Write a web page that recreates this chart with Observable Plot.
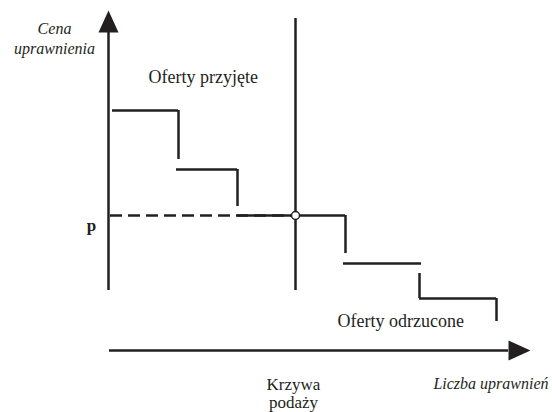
<!DOCTYPE html>
<html>
<head>
<meta charset="utf-8">
<script src="https://cdn.jsdelivr.net/npm/d3@7"></script>
<script src="https://cdn.jsdelivr.net/npm/@observablehq/plot@0.6"></script>
<style>
  html, body { margin: 0; padding: 0; background: #fff; }
</style>
</head>
<body>
<div id="chart"></div>
<script>
// Schematic units: quantity (x) and price (y)
// Accepted / rejected offers: horizontal price levels
const levelPrice = [60, 45.25, 33.75, 21.75, 13];
const levelStart = [1, 17, 32.25, 58.75, 77.75];
const levelEnd   = [17.5, 32.25, 59.25, 78.25, 97];
// Vertical drops between offers
const dropQty    = [17.5, 32.25, 59.25, 77.75, 97];
const dropTop    = [60, 45.25, 33.75, 19.25, 13];
const dropBottom = [47.75, 36, 24.25, 13, 7.25];
// Equilibrium
const supplyQty = 46.75;
const priceP = 33.75;
const supplyTop = 83, supplyBottom = 15;
// Axes
const yAxisBottom = 15, yAxisTop = 79.5;
const xAxisStart = 0.25, xAxisEnd = 100;
const arrowUp = {x: 0, y: 82.25};
const arrowRight = {x: 102.75, y: 0};

const labels = [
  {text: "Cena", x: -13.5, y: 80.3, size: 16, style: "italic", weight: "normal", anchor: "middle"},
  {text: "uprawnienia", x: -13.5, y: 75.3, size: 16, style: "italic", weight: "normal", anchor: "middle"},
  {text: "Oferty przyjęte", x: 10, y: 68.2, size: 18, style: "normal", weight: "normal", anchor: "start"},
  {text: "p", x: -4.25, y: 31.25, size: 17, style: "normal", weight: "bold", anchor: "middle"},
  {text: "Oferty odrzucone", x: 57.25, y: 7.2, size: 18, style: "normal", weight: "normal", anchor: "start"},
  {text: "Krzywa", x: 46.25, y: -8.6, size: 17, style: "normal", weight: "normal", anchor: "middle"},
  {text: "podaży", x: 46.25, y: -13.0, size: 17, style: "normal", weight: "normal", anchor: "middle"},
  {text: "Liczba uprawnień", x: 110, y: -8.4, size: 16, style: "italic", weight: "normal", anchor: "end"}
];

const ink = "#231f20";
const serif = "'Liberation Serif', 'Times New Roman', Times, 'DejaVu Serif', serif";
const levels = levelPrice.map((p, i) => ({x1: levelStart[i], x2: levelEnd[i], y: p}));
const drops = dropQty.map((q, i) => ({x: q, y1: dropTop[i], y2: dropBottom[i]}));

const arrowHead = {
  draw(context, size) {
    const r = Math.sqrt(size / Math.PI);
    context.moveTo(0, -1.1 * r);
    context.lineTo(r, 1.1 * r);
    context.lineTo(-r, 1.1 * r);
    context.closePath();
  }
};

const textMarks = labels.map(l => Plot.text([l], {
  x: "x", y: "y", text: "text",
  fontSize: l.size, fontStyle: l.style, fontWeight: l.weight,
  textAnchor: l.anchor, fontFamily: serif, fill: ink, lineAnchor: "middle"
}));

const chart = Plot.plot({
  width: 552,
  height: 412,
  margin: 0,
  x: {domain: [-27, 111], axis: null},
  y: {domain: [-15.5, 87.5], axis: null},
  style: {fontFamily: serif, background: "#fff"},
  marks: [
    // axes
    Plot.ruleX([0], {y1: yAxisBottom, y2: yAxisTop, stroke: ink, strokeWidth: 2.5}),
    Plot.ruleY([0], {x1: xAxisStart, x2: xAxisEnd, stroke: ink, strokeWidth: 2.5}),
    Plot.dot([arrowUp], {x: "x", y: "y", symbol: arrowHead, r: 10, fill: ink, stroke: null}),
    Plot.dot([arrowRight], {x: "x", y: "y", symbol: arrowHead, r: 10, rotate: 90, fill: ink, stroke: null}),
    // dashed price line
    Plot.ruleY([priceP], {x1: 0.5, x2: supplyQty, stroke: ink, strokeWidth: 2.5, strokeDasharray: "12,6"}),
    // step offers
    Plot.ruleY(levels, {y: "y", x1: "x1", x2: "x2", stroke: ink, strokeWidth: 2.5}),
    Plot.ruleX(drops, {x: "x", y1: "y1", y2: "y2", stroke: ink, strokeWidth: 2.5}),
    // supply curve
    Plot.ruleX([supplyQty], {y1: supplyBottom, y2: supplyTop, stroke: ink, strokeWidth: 2.5}),
    Plot.dot([{x: supplyQty, y: priceP}], {x: "x", y: "y", r: 4, fill: "#fff", stroke: ink, strokeWidth: 1.5}),
    ...textMarks
  ]
});
document.getElementById("chart").appendChild(chart);
</script>
</body>
</html>
